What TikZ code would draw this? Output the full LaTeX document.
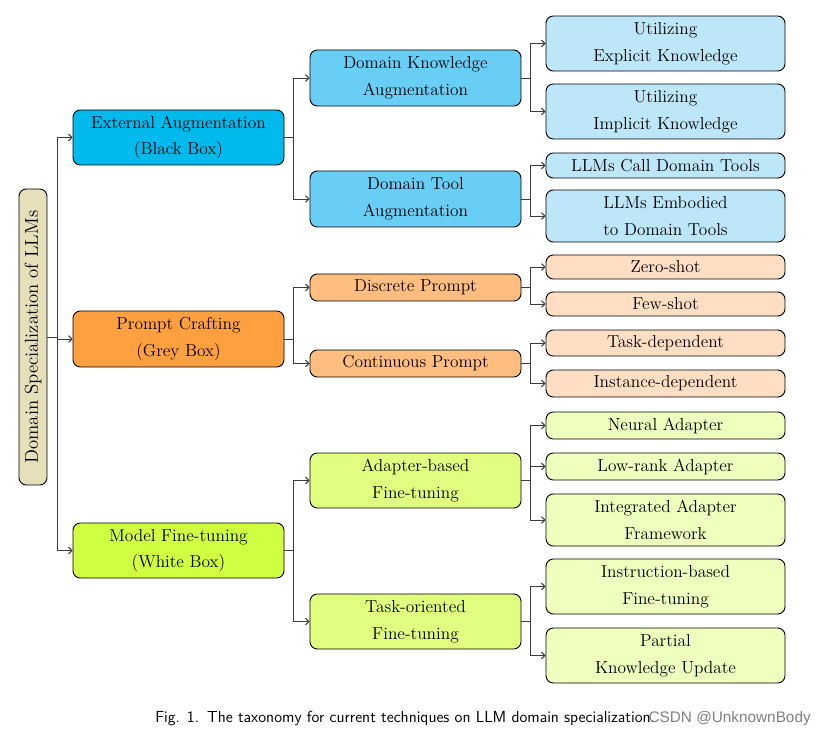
\documentclass[tikz,border=0pt]{standalone}
\usepackage{fontspec}
\newfontfamily\wmfont{Liberation Sans}
\usetikzlibrary{arrows.meta}
\definecolor{rootc}{RGB}{230,224,186}
\definecolor{bA}{RGB}{0,186,238}
\definecolor{bB}{RGB}{104,206,245}
\definecolor{bC}{RGB}{190,230,249}
\definecolor{oA}{RGB}{255,160,64}
\definecolor{oB}{RGB}{255,189,128}
\definecolor{oC}{RGB}{255,222,196}
\definecolor{gA}{RGB}{207,255,64}
\definecolor{gB}{RGB}{224,255,128}
\definecolor{gC}{RGB}{238,255,190}
\definecolor{linec}{RGB}{60,60,60}
\tikzset{
  x=0.75pt, y=-0.75pt,
  box/.style={draw=black, line width=0.7pt, rounded corners=5.5pt, align=center,
    inner sep=0pt, font=\fontsize{13}{20}\selectfont},
  conn/.style={draw=linec, line width=0.7pt},
  arr/.style={conn, -{Straight Barb[length=2.5pt,width=5pt]}},
}
\newcommand{\bx}[7]{%
  \node[box, fill=#6, minimum width={(#4-#2)*0.75pt}, minimum height={(#5-#3)*0.75pt}]
    (#1) at ({(#2+#4)/2},{(#3+#5)/2}) {#7};}
\begin{document}
\begin{tikzpicture}
\useasboundingbox (0,0) rectangle (828,734);
% root
\node[box, fill=rootc, minimum width={(483-187)*0.75pt}, minimum height={28*0.75pt}, rotate=90,
  font=\fontsize{14}{20}\selectfont]
  (root) at (33,337) {Domain Specialization of LLMs};
% level 1
\bx{ea}{73}{110}{284}{165}{bA}{External Augmentation\\(Black Box)}
\bx{pc}{73}{311}{284}{367}{oA}{Prompt Crafting\\(Grey Box)}
\bx{mf}{73}{523}{284}{578}{gA}{Model Fine-tuning\\(White Box)}
% level 2
\bx{dk}{310}{50}{521}{106}{bB}{Domain Knowledge\\Augmentation}
\bx{dt}{310}{171}{521}{227}{bB}{Domain Tool\\Augmentation}
\bx{dp}{310}{274}{521}{301}{oB}{Discrete Prompt}
\bx{cp}{310}{350}{521}{377}{oB}{Continuous Prompt}
\bx{ab}{310}{453}{521}{508}{gB}{Adapter-based\\Fine-tuning}
\bx{to}{310}{594}{521}{649}{gB}{Task-oriented\\Fine-tuning}
% level 3
\bx{ue}{546}{16}{785}{71}{bC}{Utilizing\\Explicit Knowledge}
\bx{ui}{546}{84}{785}{139}{bC}{Utilizing\\Implicit Knowledge}
\bx{lc}{546}{153}{785}{178}{bC}{LLMs Call Domain Tools}
\bx{le}{546}{190}{785}{242}{bC}{LLMs Embodied\\to Domain Tools}
\bx{zs}{546}{255}{785}{279}{oC}{Zero-shot}
\bx{fs}{546}{292}{785}{316}{oC}{Few-shot}
\bx{td}{546}{330}{785}{356}{oC}{Task-dependent}
\bx{id}{546}{370}{785}{397}{oC}{Instance-dependent}
\bx{na}{546}{412}{785}{439}{gC}{Neural Adapter}
\bx{lr}{546}{453}{785}{480}{gC}{Low-rank Adapter}
\bx{ia}{546}{494}{785}{546}{gC}{Integrated Adapter\\Framework}
\bx{ib}{546}{559}{785}{614}{gC}{Instruction-based\\Fine-tuning}
\bx{pk}{546}{628}{785}{683}{gC}{Partial\\Knowledge Update}
% junction x positions
\coordinate (j0) at (57,0);
\coordinate (j1) at (293,0);
\coordinate (j2) at (530,0);
% root -> level 1
\draw[conn] (root.south) -- (root.south -| j0);
\foreach \t in {ea,pc,mf}{\draw[arr] (root.south -| j0) |- (\t.west);}
% level 1 -> level 2
\draw[conn] (ea.east) -- (ea.east -| j1);
\foreach \t in {dk,dt}{\draw[arr] (ea.east -| j1) |- (\t.west);}
\draw[conn] (pc.east) -- (pc.east -| j1);
\foreach \t in {dp,cp}{\draw[arr] (pc.east -| j1) |- (\t.west);}
\draw[conn] (mf.east) -- (mf.east -| j1);
\foreach \t in {ab,to}{\draw[arr] (mf.east -| j1) |- (\t.west);}
% level 2 -> level 3
\draw[conn] (dk.east) -- (dk.east -| j2);
\foreach \t in {ue,ui}{\draw[arr] (dk.east -| j2) |- (\t.west);}
\draw[conn] (dt.east) -- (dt.east -| j2);
\foreach \t in {lc,le}{\draw[arr] (dt.east -| j2) |- (\t.west);}
\draw[conn] (dp.east) -- (dp.east -| j2);
\foreach \t in {zs,fs}{\draw[arr] (dp.east -| j2) |- (\t.west);}
\draw[conn] (cp.east) -- (cp.east -| j2);
\foreach \t in {td,id}{\draw[arr] (cp.east -| j2) |- (\t.west);}
\draw[conn] (ab.east) -- (ab.east -| j2);
\foreach \t in {na,lr,ia}{\draw[arr] (ab.east -| j2) |- (\t.west);}
\draw[conn] (to.east) -- (to.east -| j2);
\foreach \t in {ib,pk}{\draw[arr] (to.east -| j2) |- (\t.west);}
% caption
\node[anchor=base west, inner sep=0pt, font=\sffamily\fontsize{12}{13}\selectfont] (cap) at (155,722)
  {Fig. 1.\enspace The taxonomy for current techniques on LLM domain specialization.};
\node[anchor=base east, inner sep=0pt, text=gray, font=\wmfont\fontsize{11.5}{13}\selectfont] (wm) at (811,722)
  {CSDN @UnknownBody};
\end{tikzpicture}
\end{document}
